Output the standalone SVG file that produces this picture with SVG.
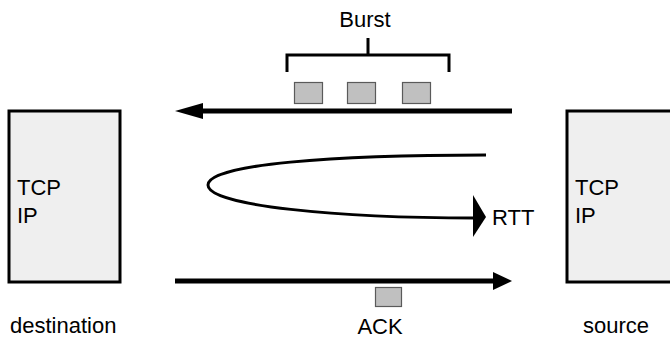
<svg xmlns="http://www.w3.org/2000/svg" width="670" height="341" viewBox="0 0 670 341">
<style>
.host{fill:#efefef;stroke:#000;stroke-width:3}
.pkt{fill:#c0c0c0;stroke:#5a5a5a;stroke-width:1.2}
.t{font-family:"Liberation Sans",Arial,sans-serif;font-size:22px;fill:#000}
.ln{fill:none;stroke:#000}
</style>
<rect width="670" height="341" fill="#fff"/>
<g id="destination">
<rect class="host" x="9" y="111" width="111" height="171"/>
<text class="t" x="17" y="195">TCP</text>
<text class="t" x="17" y="223">IP</text>
<text class="t" x="10" y="333">destination</text>
</g>
<g id="source">
<rect class="host" x="567" y="111" width="110" height="171"/>
<text class="t" x="575" y="195">TCP</text>
<text class="t" x="575" y="223">IP</text>
<text class="t" x="583" y="333">source</text>
</g>
<g id="burst">
<path class="ln" stroke-width="3" d="M287,72 V55 H449 V72 M368,38 V55"/>
<text class="t" x="365" y="27" text-anchor="middle">Burst</text>
<rect class="pkt" x="294.5" y="82.5" width="28" height="21"/>
<rect class="pkt" x="347.5" y="82.5" width="28" height="21"/>
<rect class="pkt" x="402.5" y="82.5" width="28" height="21"/>
</g>
<g id="ack">
<rect class="pkt" x="375.5" y="287.5" width="26" height="19"/>
<text class="t" x="380" y="334" text-anchor="middle">ACK</text>
</g>
<g id="rtt">
<text class="t" x="492" y="225">RTT</text>
</g>
<g id="connectors">
<line class="ln" stroke-width="5" x1="512" y1="111" x2="200" y2="111"/>
<polygon points="175,111 203,103 203,119" fill="#000"/>
<line class="ln" stroke-width="5" x1="175" y1="281" x2="495" y2="281"/>
<polygon points="512,281 493,272 493,290" fill="#000"/>
<path class="ln" stroke-width="3" d="M486,155 C335,155 208,164 208,185 C208,206 340,218 475,218"/>
<polygon points="473,195 486,217 473,237" fill="#000"/>
</g>
</svg>
